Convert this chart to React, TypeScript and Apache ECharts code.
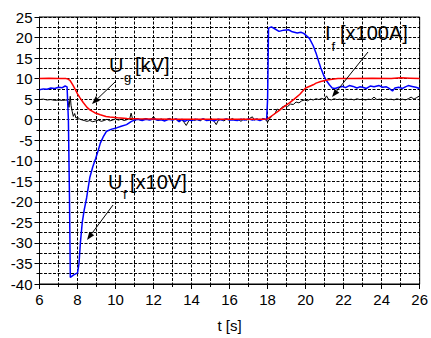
import React, { useEffect, useRef } from "react";
import * as echarts from "echarts";

// t [s] range and ticks
const xMin = 6;
const xMax = 26;
const yMin = -40;
const yMax = 25;

// U_g [kV] (red)
const ugData: number[][] = [
  [6, 10], [6.5, 10.1], [7.0, 10.0], [7.4, 10.0], [7.5, 9.9], [7.6, 9.6], [7.75, 8.5], [7.9, 7.2],
  [8.0, 6.3], [8.13, 5.3], [8.3, 4.2], [8.5, 3.0], [8.65, 2.4], [8.9, 1.7], [9.2, 1.2], [9.5, 0.8],
  [9.7, 0.65], [10.1, 0.45], [10.6, 0.3], [11.2, 0.2], [12, 0.15], [13, 0.1], [14, 0.1], [15, 0.1],
  [16, 0.1], [17, 0.1], [17.8, 0.1], [18.0, 0.2], [18.3, 1.2], [18.6, 2.2], [18.9, 3.3], [19.15, 4.1],
  [19.4, 5.0], [19.7, 6.2], [19.85, 7.0], [20.0, 7.7], [20.25, 8.2], [20.4, 8.5], [20.55, 8.9],
  [20.8, 9.3], [21.07, 9.6], [21.3, 9.8], [21.7, 10.0], [22.5, 10.0], [23.5, 10.1], [24.5, 10.0],
  [25, 10.2], [25.5, 10.1], [26, 10.0],
];

// U_f [x10V] (blue)
const ufData: number[][] = [
  [6, 7.3], [6.2, 7.5], [6.4, 7.4], [6.6, 7.7], [6.8, 7.6], [7.0, 7.9], [7.2, 7.8], [7.35, 8.2],
  [7.45, 8.0], [7.52, 0], [7.58, -20], [7.62, -38.4], [7.8, -37.8], [8.0, -37.3], [8.08, -35],
  [8.15, -30], [8.25, -25], [8.35, -22], [8.48, -19], [8.65, -14], [8.8, -11.5], [8.95, -9.5],
  [9.1, -7.3], [9.2, -5.7], [9.35, -4.2], [9.53, -2.8], [9.8, -2.3], [10.05, -2.0], [10.3, -1.6],
  [10.58, -1.2], [10.84, -0.4], [11.0, -0.1], [11.2, 0.1], [11.4, -0.2], [11.6, 0.1], [11.8, -0.1],
  [12.0, 0.2], [12.2, -0.1], [12.4, 0.0], [12.6, -0.3], [12.8, 0.1], [13.0, -0.1], [13.2, 0.2],
  [13.35, -0.5], [13.5, 0.1], [13.65, -0.4], [13.8, 0.0], [14.0, -0.2], [14.2, 0.1], [14.4, -0.1],
  [14.6, 0.2], [14.8, -0.2], [15.0, 0.0], [15.2, -0.3], [15.4, 0.1], [15.6, -0.1], [15.8, 0.2],
  [16.0, -0.1], [16.2, 0.0], [16.4, -0.2], [16.6, 0.1], [16.8, -0.1], [17.0, 0.2], [17.2, -0.1],
  [17.4, 0.1], [17.6, -0.2], [17.8, 0.2], [17.95, 0.0], [18.0, 5], [18.05, 22.3], [18.2, 22.6],
  [18.35, 22.2], [18.6, 21.5], [18.85, 21.8], [19.1, 21.9], [19.3, 21.4], [19.56, 21.1],
  [19.75, 21.3], [19.9, 21.0], [20.05, 20.4], [20.2, 19.8], [20.4, 18.0], [20.55, 16.2],
  [20.7, 14.0], [20.8, 12.6], [20.95, 10.8], [21.07, 9.7], [21.25, 8.5], [21.4, 7.7], [21.55, 7.6],
  [21.75, 7.9], [21.95, 8.1], [22.1, 7.8], [22.3, 8.3], [22.5, 8.1], [22.7, 7.7], [22.85, 8.0],
  [23.0, 7.9], [23.2, 7.6], [23.4, 8.2], [23.6, 8.0], [23.87, 8.3], [24.05, 7.9], [24.25, 8.0],
  [24.4, 7.6], [24.57, 7.0], [24.7, 7.7], [24.9, 7.9], [25.1, 7.6], [25.25, 8.0], [25.4, 8.3],
  [25.6, 8.1], [25.8, 7.9], [26.0, 7.6],
];

// I_f [x100A] (black)
const ifData: number[][] = [
  [6, 4.9], [6.2, 5.0], [6.4, 4.8], [6.6, 4.9], [6.8, 4.7], [7.0, 4.8], [7.2, 4.7], [7.4, 4.8],
  [7.5, 4.6], [7.55, 3.0], [7.62, 5.7], [7.66, 3.5], [7.72, 2.0], [7.78, 0.8], [7.85, 1.5],
  [7.92, 0.4], [8.0, 0.6], [8.1, 0.2], [8.2, 0.0], [8.35, -0.2], [8.5, -0.4], [8.65, -0.2],
  [8.8, -0.5], [8.95, -0.3], [9.1, -0.1], [9.25, -0.4], [9.4, -0.2], [9.55, 0.1], [9.7, -0.3],
  [9.85, -0.1], [10.0, 0.2], [10.15, -0.1], [10.3, 0.1], [10.45, -0.2], [10.6, 0.0], [10.75, 0.3],
  [10.82, 1.6], [10.9, 0.1], [11.0, -0.3], [11.15, 0.2], [11.3, -0.1], [11.45, 0.1], [11.6, 0.3],
  [11.75, 0.0], [11.9, 0.2], [12.0, 0.8], [12.1, 0.1], [12.25, -0.2], [12.4, 0.2], [12.55, -0.3],
  [12.7, 0.1], [12.85, 0.3], [13.0, -0.1], [13.15, 0.2], [13.3, -0.4], [13.45, 0.1], [13.6, -0.6],
  [13.72, -1.4], [13.85, -0.3], [14.0, 0.2], [14.15, -0.2], [14.3, 0.1], [14.45, -0.3], [14.6, 0.2],
  [14.75, 0.0], [14.9, -0.2], [15.05, 0.3], [15.2, -0.5], [15.3, -1.2], [15.4, -0.2], [15.55, 0.1],
  [15.7, -0.3], [15.85, 0.2], [16.0, -0.1], [16.15, 0.3], [16.3, -0.2], [16.45, 0.1], [16.6, -0.4],
  [16.75, 0.2], [16.9, -0.1], [17.05, 0.3], [17.2, 0.7], [17.3, -0.1], [17.45, 0.2], [17.6, -0.2],
  [17.75, 0.3], [17.9, 0.0], [18.0, -0.6], [18.1, 0.2], [18.25, 1.0], [18.4, 1.6], [18.5, 2.6],
  [18.6, 2.3], [18.75, 3.0], [18.9, 3.4], [19.05, 3.2], [19.2, 3.8], [19.35, 3.7], [19.5, 4.3],
  [19.65, 4.1], [19.8, 4.6], [19.95, 4.8], [20.1, 4.6], [20.25, 5.0], [20.4, 4.8], [20.55, 5.1],
  [20.7, 4.9], [20.85, 5.2], [21.0, 4.9], [21.1, 5.8], [21.2, 5.0], [21.35, 4.8], [21.5, 5.1],
  [21.65, 4.9], [21.8, 5.0], [21.95, 4.8], [22.1, 5.1], [22.25, 4.9], [22.4, 5.0], [22.55, 4.8],
  [22.7, 5.1], [22.85, 4.9], [23.0, 5.0], [23.15, 4.8], [23.3, 5.0], [23.45, 4.9], [23.6, 5.5],
  [23.75, 4.9], [23.9, 5.0], [24.05, 4.8], [24.2, 5.1], [24.35, 4.9], [24.5, 5.0], [24.65, 4.8],
  [24.8, 5.1], [24.95, 4.9], [25.1, 5.0], [25.25, 4.8], [25.4, 5.1], [25.55, 5.5], [25.7, 5.0],
  [25.85, 5.4], [26.0, 5.8],
];

const FONT = "'Liberation Sans', Arial, sans-serif";

function arrow(x1: number, y1: number, x2: number, y2: number) {
  const ang = Math.atan2(y2 - y1, x2 - x1);
  const len = 8;
  const half = 3;
  const bx = x2 - len * Math.cos(ang);
  const by = y2 - len * Math.sin(ang);
  const px = -Math.sin(ang) * half;
  const py = Math.cos(ang) * half;
  return [
    {
      type: "line",
      shape: { x1, y1, x2: bx, y2: by },
      style: { stroke: "#000", lineWidth: 1 },
      z: 100,
    },
    {
      type: "polygon",
      shape: { points: [[x2, y2], [bx + px, by + py], [bx - px, by - py]] },
      style: { fill: "#000" },
      z: 100,
    },
  ];
}

function txt(x: number, y: number, text: string, size: number) {
  return {
    type: "text",
    x,
    y,
    z: 100,
    style: { text, fill: "#000", font: `${size}px ${FONT}`, fontSize: size, fontFamily: FONT, verticalAlign: "top", align: "left" },
  };
}

export default function App() {
  const ref = useRef<HTMLDivElement>(null);
  useEffect(() => {
    if (!ref.current) return;
    const chart = echarts.init(ref.current, null, { renderer: "svg" });
    const gridLine = { show: true, lineStyle: { color: "#000", type: [3, 1.5], width: 1 } };
    chart.setOption({
      animation: false,
      backgroundColor: "#fff",
      grid: {
        left: 39.5,
        right: 10.5,
        top: 17,
        bottom: 53,
        show: true,
        borderColor: "#000",
        borderWidth: 1,
        containLabel: false,
      },
      xAxis: {
        type: "value",
        min: xMin,
        max: xMax,
        interval: 2,
        name: "t [s]",
        nameLocation: "middle",
        nameGap: 34,
        nameTextStyle: { fontFamily: FONT, fontSize: 15, color: "#000" },
        axisLine: { show: true, onZero: false, lineStyle: { color: "#000", width: 1 } },
        axisTick: { show: true, length: 5, lineStyle: { color: "#000" } },
        minorTick: { show: true, splitNumber: 2, length: 3, lineStyle: { color: "#000" } },
        axisLabel: { fontFamily: FONT, fontSize: 15, color: "#000", margin: 8 },
        splitLine: gridLine,
        minorSplitLine: gridLine,
      },
      yAxis: {
        type: "value",
        min: yMin,
        max: yMax,
        interval: 5,
        axisLine: { show: true, onZero: false, lineStyle: { color: "#000", width: 1 } },
        axisTick: { show: true, length: 5, lineStyle: { color: "#000" } },
        minorTick: { show: true, splitNumber: 2, length: 3, lineStyle: { color: "#000" } },
        axisLabel: { fontFamily: FONT, fontSize: 15, color: "#000", margin: 7 },
        splitLine: gridLine,
        minorSplitLine: gridLine,
      },
      series: [
        {
          name: "If",
          type: "line",
          data: ifData,
          showSymbol: false,
          lineStyle: { color: "#000", width: 1 },
          z: 3,
        },
        {
          name: "Uf",
          type: "line",
          data: ufData,
          showSymbol: false,
          lineStyle: { color: "#0000ff", width: 1.5 },
          z: 4,
        },
        {
          name: "Ug",
          type: "line",
          data: ugData,
          showSymbol: false,
          lineStyle: { color: "#ff0000", width: 1.5 },
          z: 5,
        },
      ],
      graphic: [
        txt(109, 55, "U", 20),
        txt(124, 71, "g", 13),
        txt(135, 55, "[kV]", 20),
        ...arrow(115, 82, 92, 104),
        txt(325, 23, "I", 20),
        txt(331.5, 40, "f", 13),
        txt(340, 23, "[x100A]", 20),
        ...arrow(368, 52, 332, 97),
        txt(108, 172, "U", 20),
        txt(123, 188, "f", 13),
        txt(130, 172, "[x10V]", 20),
        ...arrow(113, 205, 87, 240),
      ],
    });
    return () => chart.dispose();
  }, []);
  return (
    <div
      ref={ref}
      style={{ position: "fixed", left: 0, top: 0, width: 431, height: 338 }}
    />
  );
}
